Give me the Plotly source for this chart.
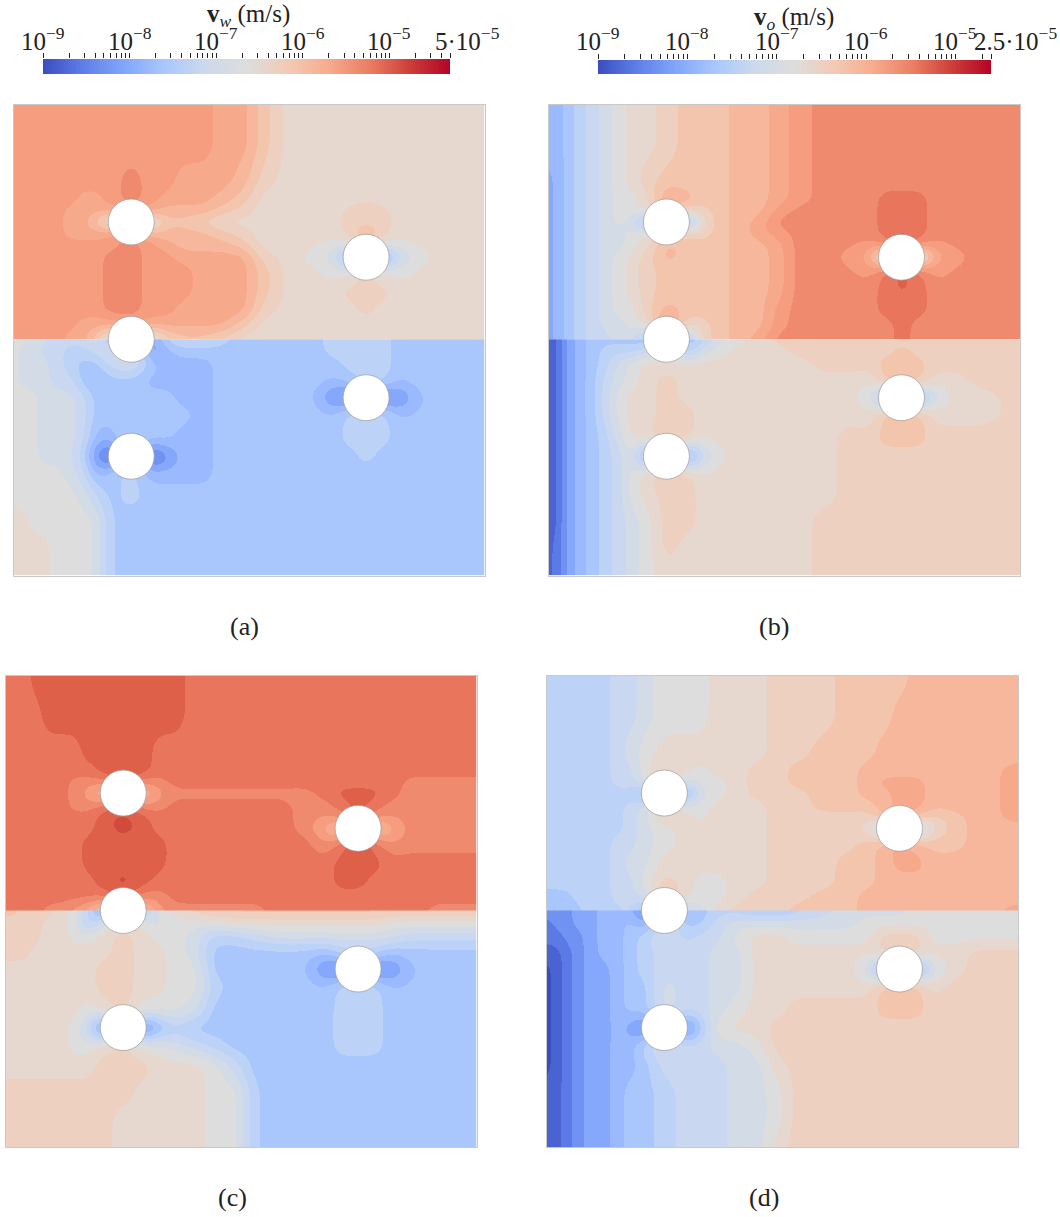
import numpy as np
import plotly.graph_objects as go

# Grid nodes of the reservoir (units: 1416 = panel width)
X_NODES = [0,30,60,90,130,170,210,250,290, 354,420,460,510,570,630,690,750,830, 900,960,1010,1060,1110,1160,1220,1300,1416]
Y_TOP = [0,120,230,285,320,352,390,425,458,500,560,620,660,705]
Y_BOT = [705,740,780,830,881,930,1000,1057,1110,1170,1250,1330,1416]
WELL_X = [354,1060,354,354,1060]
WELL_Y = [352,458,705,1057,881]

# Colour band (level) of the velocity read at every node
A_TOP = [
[16,16,16,16,16,16,16,16,16, 16,16,16,16,16,15,15,13,11, 11,11,11,11,11,11,11,11,11],
[16,16,16,16,16,16,16,16,16, 16,16,16,16,16,15,15,13,11, 11,11,11,11,11,11,11,11,11],
[16,16,16,16,16,16,16,16,16, 17,16,16,15,15,15,14,12,11, 11,11,11,11,11,11,11,11,11],
[16,16,16,16,16,16,15,15,16, 17,16,15,15,15,14,13,11,11, 11,11,11,11.5,11,11,11,11,11],
[16,16,16,16,16,15,15,15,15, 16,15,14,14,14,13,12,11,11, 11,11,12,12,12,11,11,11,11],
[16,16,16,16,16,15,15,13,9, 12,9,13,13,12,11,11,11,11, 11,11,12,12,12,11,11,11,11],
[16,16,16,16,16,15,15,15,16, 17,14,14,14,14,13,12,11,11, 11,11,12,14,12,11,11,11,11],
[16,16,16,16,16,16,16,16,16, 17,16,15,14,14,14,13,11,11, 10.7,10,10,13,10,10,10.7,11,11],
[16,16,16,16,16,16,16,16,17, 17,16,16,15,15,15,15,12,11, 10,9,3,9,3,8,10,11,11],
[16,16,16,16,16,16,16,16,17, 17,16,16,16,15,15,15,13,11, 10.7,10,10,12,10,10,10.7,11,11],
[16,16,16,16,16,16,16,16,17, 17,16,16,16,15,15,15,13,11, 11,11,12,12,12,11,11,11,11],
[16,16,16,16,16,16,16,16,17, 17,16,16,15,15,15,15,12,11, 11,11,11,12,11,11,11,11,11],
[16,16,16,16,16,16,15,15,15, 16,15,15,15,15,15,13,11,11, 11,11,11,11,11,11,11,11,11],
[16,16,16,16,16,15,15,13,9, 12,9,12,13,13,12,11,11,11, 11,11,11,11,11,11,11,11,11],
]
A_BOT = [
[10,10,9,9,8,8,8,10,5, 6,4,7,8,8,7,6,6,6, 6,7,7,7,7,6,6,6,6],
[10,9,9,8,8,7,7,8,9, 10,3,5,6,6,6,6,6,6, 6,7,7,7,7,6,6,6,6],
[10,9,9,9,8,7,6,6,8, 9,6,5,5,5,6,6,6,6, 6,6,7,7,7,6,6,6,6],
[10,9,9,9,8,8,6,5,6, 6,5,5,5,5,6,6,6,6, 6,5.4,6,7,7,5.5,6,6,6],
[10,10,10,9,9,9,8,6,6, 6,6,6,5,5,6,6,6,6, 5.6,3,2,6,2,3,5.4,6,6],
[10,10,10,9,9,9,8,6,6, 6,6,6,6,5,6,6,6,6, 6,5.5,7,7,7,5.4,5.7,6,6],
[10,10,10,9,9,9,8,5,5, 7,6,6,5,5,6,6,6,6, 6,6,7,7,7,6,6,6,6],
[10,10,10,9,9,9,7,3,1, 7,1,3,5,5,6,6,6,6, 6,6,6,7,6,6,6,6,6],
[10,10,10,10,10,9,8,5,6, 7,5,5,5,5,6,6,6,6, 6,6,6,6,6,6,6,6,6],
[10,10,10,10,10,10,9,7.5,6, 7,6,6,6,6,6,6,6,6, 6,6,6,6,6,6,6,6,6],
[11,11,10,10,10,10,10,9.5,6.5, 6,6,6,6,6,6,6,6,6, 6,6,6,6,6,6,6,6,6],
[11,11,11,11,10,10,10,9.5,6.5, 6,6,6,6,6,6,6,6,6, 6,6,6,6,6,6,6,6,6],
[11,11,11,11,10,10,10,9.5,6.5, 6,6,6,6,6,6,6,6,6, 6,6,6,6,6,6,6,6,6],
]
B_TOP = [
[5,5,6,7,8,9,10,11,11, 12,13,13,13,14,14,15,16,17, 17,17,17,17,17,17,17,17,17],
[5,5,6,7,8,9,10,11,11, 12,13,13,13,14,14,15,16,17, 17,17,17,17,17,17,17,17,17],
[4,5,6,7,8,9,10,11,12, 13,13,13,13,14,14,15,16,17, 17,17,17,17,17,17,17,17,17],
[4,5,6,7,8,9,10,10,11, 15,14,13,13,14,14,15,16,17, 17,17,18,18,18,17,17,17,17],
[4,5,6,7,8,9,10,10,11, 13,12,12,13,14,14,16,17,17, 17,17,18,18,18,17,17,17,17],
[4,5,6,7,8,9,10,9,3, 12,3,11,13,14,15,17,17,17, 17,17,18,18,18,17,17,17,17],
[4,5,6,7,8,9,9,10,11, 12,13,12,13,14,15,16,17,17, 17,17,18,19,18,17,17,17,17],
[4,5,6,7,8,9,9,10,11, 14,13,13,13,14,14,15,17,17, 16.7,16,17,19,17,16,16.7,17,17],
[4,5,6,7,8,9,10,11,12, 14,13,13,13,14,14,15,17,17, 16,15,7,19,7,15,16,17,17],
[4,5,6,7,8,9,10,11,12, 13,13,13,13,14,14,15,17,17, 16.7,16,18,19,18,16,16.7,17,17],
[4,5,6,7,8,9,10,11,12, 13,13,13,13,14,14,15,17,17, 17,17,18,18.7,18,17,17,17,17],
[4,5,6,7,8,9,10,10,12, 14,13,13,13,14,14,16,17,17, 17,17,18,18,18,17,17,17,17],
[4,5,6,7,8,9,9,10,11, 16,12,12,13,14,14,16,17,17, 17,17,17,18,17,17,17,17,17],
[4,5,6,7,8,8,9,9,5, 12,5,12,13,14,15,17,17,17, 17,17,17,18,17,17,17,17,17],
]
B_BOT = [
[0,2,4,5,6,6,6,6,5, 12,5,7,9,10,11,12,12,12, 12,12,12,12,12,12,12,12,12],
[0,2,4,5,6,7,7,7,8, 10,6,9,10,11,11,11,12,12, 12,12,12,13,12,12,12,12,12],
[0,2,4,5,6,7,9,10,11, 11,11,11,11,11,11,11,11,12, 12,12,13,13,13,12,12,12,12],
[0,2,4,5,6,8,9,10,11, 12,11,11,11,11,11,11,11,11, 11,10.6,13,14,13,11,11,12,12],
[0,2,4,5,6,8,10,11,11, 12,11,11,11,11,11,11,11,11, 10.6,10,4,12,4,9,11,11,12],
[0,2,4,5,6,8,10,11,11, 12,12,11,11,11,11,11,11,11, 11,10.6,13,14,13,11,11,11,12],
[0,2,4,5,6,7,9,11,11, 13,12,10.5,11,11,11,11,11,11, 12,12,13,13,13,12,12,12,12],
[0,2,4,5,6,7,8,10,3, 12,3,8,10,11,11,11,11,11, 12,12,12,12,12,12,12,12,12],
[0,2,4,5,6,7,8,10,11, 13,12,10.5,11,11,11,11,11,11, 12,12,12,12,12,12,12,12,12],
[0,2,4,5,6,7,8,10,11, 12,12,11,11,11,11,11,11,11, 12,12,12,12,12,12,12,12,12],
[0,2,4,5,6,7,8,9,10, 12,12,11,11,11,11,11,11,12, 12,12,12,12,12,12,12,12,12],
[1,2,4,5,6,7,8,9,10, 12,11,11,11,11,11,11,11,12, 12,12,12,12,12,12,12,12,12],
[1,2,4,5,6,7,8,9,10, 11,11,11,11,11,11,11,11,12, 12,12,12,12,12,12,12,12,12],
]
C_TOP = [
[18,18,18,19,19,19,19,19,19, 19,19,19,19,18,18,18,18,18, 18,18,18,18,18,18,18,18,18],
[18,18,18,18,19,19,19,19,19, 19,19,19,19,18,18,18,18,18, 18,18,18,18,18,18,18,18,18],
[18,18,18,18,18,18,18,19,19, 19,19,18,18,18,18,18,18,18, 18,18,18,18,18,18,18,18,18],
[18,18,18,18,18,18,18,18,19, 20,19,18,18,18,18,18,18,18, 18,18,18,18,18,18,18,18,18],
[18,18,18,18,18,18,17,17,17, 18,17,17,18,18,18,18,18,18, 18,18,18,18,18,18,17,17,17],
[18,18,18,18,18,18,17,16,13, 18,13,16,17,17,17,17,17,17, 17,18,19,19,19,18,17,17,17],
[18,18,18,18,18,18,17,17,18, 19,17,17,18,18,18,18,18,18, 17,17,18,19,18,17,17,17,17],
[18,18,18,18,18,18,18,18,19, 20,19,18,18,18,18,18,18,18, 17,16.5,17,19,17,16.5,17,17,17],
[18,18,18,18,18,18,18,18,19, 20,19,18,18,18,18,18,18,18, 17,15,12,19,12,15,17,17,17],
[18,18,18,18,18,18,18,19,19, 19,19,19,18,18,18,18,18,18, 18,16.5,18,20,18,16.5,17,17,17],
[18,18,18,18,18,18,18,19,19, 19,19,19,18,18,18,18,18,18, 18,18,19,19,19,18,18,18,18],
[18,18,18,18,18,18,18,18,19, 20,19,18,18,18,18,18,18,18, 18,18,19,19,18,18,18,18,18],
[18,18,18,18,18,18,18,18,18, 19,17,17,18,18,18,18,18,18, 18,18,18,18,18,18,18,18,18],
[18,18,18,18,17,17,16,15,12, 16,13,16,17,17,17,17,17,18, 18,18,18,18,18,18,18,17,17],
]
C_BOT = [
[13,13,12,12,12,11,10,8,3, 12,6,10,11,12,13,13,13,13, 13,13,13,13,13,13,13,13,13],
[12,12,12,12,11,11,10,6,9, 11,10,9,10,10,10,11,11,11, 11,11,11,11,11,10,10,10,10],
[12,12,12,12,11,11,10,10,11, 12,11,10,10,9,7,7,8,9, 9,9,9,9,9,9,8,8,8],
[12,12,12,11,11,11,11,11,11, 12,11,11,10,9,6,6,6,6, 6,5.5,7,7,7,5.5,6,6,6],
[11,11,11,11,11,11,11,11,12, 12,11,11,10,10,6,6,6,6, 5.6,3,2,7,2,3,5.4,6,6],
[11,11,11,11,11,11,11,11,12, 12,11,11,10,10,7,6,6,6, 6,5.5,7,7,7,5.5,5.7,6,6],
[11,11,11,11,11,11,11,10,11, 12,10,10,10,9,6,6,6,6, 6,6,7,7,7,6,6,6,6],
[11,11,11,11,11,11,10,8,2, 12,2,5,7,6,6,6,6,6, 6,6,7,7,7,6,6,6,6],
[11,11,11,11,11,11,10,10,11, 12,10,10,9,8,7,6,6,6, 6,6,7,7,7,6,6,6,6],
[11,11,11,11,11,11,11,11,12, 12,12,11,11,11,10,8,6,6, 6,6,6,6,6,6,6,6,6],
[12,12,12,12,12,12,12,12,12, 12,11,11,11,11,10,10,6.5,6, 6,6,6,6,6,6,6,6,6],
[12,12,12,12,12,12,12,12,12, 11,11,11,11,11,10,10,6.5,6, 6,6,6,6,6,6,6,6,6],
[12,12,12,12,12,12,12,12,12, 11,11,11,11,11,10,10,6.5,6, 6,6,6,6,6,6,6,6,6],
]
D_TOP = [
[7,7,7,7,7,7,8,8,9, 10,10,10,11,11,11,12,12,12, 13,13,13,13,14,14,14,14,14],
[7,7,7,7,7,7,8,8,9, 10,10,10,11,11,11,12,12,12, 13,13,13,14,14,14,14,14,14],
[7,7,7,7,7,7,8,9,10, 11,11,11,11,11,11,12,12,13, 13,13,14,14,14,14,14,14,14],
[7,7,7,7,7,7,8,8,10, 12,11,10,11,11,12,12,13,13, 13,14,14,14,14,14,14,14,15],
[7,7,7,7,7,7,8,8,10, 12,9,10,10,11,12,12,13,13, 13,14,15,15,15,14,14,14,15],
[7,7,7,7,7,7,7,7,3, 12,3,9,10,11,12,12,12,13, 13,14,14,15,15,14,14,14,15],
[7,7,7,7,7,7,7,8,9, 12,10,10,11,11,11,12,12,13, 13,13,14,15,15,14,14,14,15],
[7,7,7,7,7,7,7,8,9, 12,11,10,11,11,11,12,12,12, 12,12,14,15,14,12,13,14,15],
[7,7,7,7,7,7,7,8,9, 10,11,11,11,11,11,12,12,12, 12,11,5,14,5,11,13,14,14],
[7,7,7,7,7,7,8,8,9, 10,11,11,11,11,11,12,12,12, 12,13,14,15,14,13,13,14,14],
[7,7,7,7,7,7,8,9,9, 11,11,11,11,11,11,12,12,12, 13,13,14,15,15,14,14,14,14],
[7,7,7,7,7,7,8,8,10, 12,11,10,10,11,11,12,12,12, 13,13,14,14,14,14,14,14,14],
[6,6,6,7,7,7,8,8,9, 13,11,10,10,11,12,12,12,13, 13,14,14,14,14,14,14,14,14],
[6,6,6,6,7,7,7,8,4, 13,7,9,11,12,12,12,13,13, 13,14,14,14,14,14,14,14,15],
]
D_BOT = [
[3,3,3,4,4,5,5,5,2, 9,5,6,7,7,6,6,7,8, 9,9,9,9,10,10,10,10,10],
[2,3,3,4,4,5,5,6,4, 9,6,6,8,9,9,9,9,9, 9,10,10,10,10,10,10,10,10],
[2,2,3,3,4,5,5,6,7, 9,7,8,8,10,11,11,10,10, 10,10,12,12,12,10,10,10,10],
[1,1,2,3,4,5,5,6,7, 8,8,8,9,9,11,11,11,11, 11,11,12,13,12,11,11,12,12],
[0,1,2,3,4,4,5,6,7, 8,8,8,9,9,11,11,11,11, 11,9,3,12,3,9,11,12,12],
[0,1,2,3,4,4,5,6,6, 9,8,8,9,9,11,11,11,11, 11,11,13,14,13,11,12,12,12],
[0,1,2,3,4,4,5,6,6, 9,8,8,9,10,11,11,12,12, 12,12,13,13,13,12,12,12,12],
[0,1,2,3,4,4,5,4,2, 9,2,6,10,11,11,12,12,12, 12,12,12,12,12,12,12,12,12],
[0,1,2,3,4,4,5,5,7, 9,8,8,9,9,10,12,12,12, 12,12,12,12,12,12,12,12,12],
[0,1,2,3,4,4,5,5,6, 8,8,8,8,9,9,11,12,12, 12,12,12,12,12,12,12,12,12],
[1,1,2,3,4,4,5,6,6, 7,8,8,8,9,9,10,12,12, 12,12,12,12,12,12,12,12,12],
[1,1,2,3,4,4,5,6,6, 7,8,8,8,9,9,10,12,12, 12,12,12,12,12,12,12,12,12],
[1,1,2,3,4,4,5,6,6, 7,8,8,8,9,9,11,12,12, 12,12,12,12,12,12,12,12,12],
]

# Colour of each level
LEVEL_COLORS = ["#3b4cc0","#4a63d3","#5b7ae5","#6f92f3","#85a8fc","#9bb9ff","#aac7fd","#bcd2f7",
                "#c9d7f0","#d3dbe7","#dddddd","#e6d8cf","#eed0c0","#f4c5ad","#f6b79c","#f7a98b",
                "#f59d7e","#ef8a6e","#e8755c","#de6049","#d14a3d","#c0282f","#b40426"]
COOLWARM = [[0,"#3b4cc0"],[0.1,"#5f7fe8"],[0.2,"#82a6fb"],[0.3,"#aac7fd"],[0.4,"#cdd9ec"],[0.5,"#dddddd"],
            [0.6,"#f2cbb7"],[0.7,"#f7ac8e"],[0.8,"#ec7f63"],[0.9,"#cc403a"],[1,"#b40426"]]

CB_LEFT_MIN, CB_LEFT_MAX = -9, np.log10(5e-5)
CB_RIGHT_MIN, CB_RIGHT_MAX = -9, np.log10(2.5e-5)
DECADES = [-9,-8,-7,-6,-5]
DECADE_LABELS = ["10<sup>−9</sup>","10<sup>−8</sup>","10<sup>−7</sup>","10<sup>−6</sup>","10<sup>−5</sup>"]

W, H = 1060, 1217
FONT = "Liberation Serif"
SMOOTH_SIGMA = 18.0
STEP = 3.0
def dx(a, b): return [a/W, b/W]
def dy(top, bot): return [1-bot/H, 1-top/H]

def smooth_field(xs, ys, rows):
    """Resample the node values on a pixel grid, round off grid corners, snap to bands."""
    xf = np.arange(xs[0]+STEP/2, xs[-1], STEP)
    yf = np.arange(ys[0]+STEP/2, ys[-1], STEP)
    a = np.asarray(rows, float)
    a = np.array([np.interp(xf, xs, r) for r in a])
    a = np.array([np.interp(yf, ys, c) for c in a.T]).T
    rad = int(3*SMOOTH_SIGMA/STEP)
    k = np.exp(-0.5*(np.arange(-rad, rad+1)*STEP/SMOOTH_SIGMA)**2); k /= k.sum()
    for axis in (0, 1):
        pad = [(0,0),(0,0)]; pad[axis] = (rad, rad)
        p = np.pad(a, pad, mode="edge")
        a = np.apply_along_axis(lambda v: np.convolve(v, k, mode="valid"), axis, p)
    return xf, yf, np.round(a).astype(int)

n = len(LEVEL_COLORS)
steps = []
for k, c in enumerate(LEVEL_COLORS):
    steps += [[k/n, c], [(k+1)/n, c]]

fig = go.Figure()
panels = [("x","y",A_TOP,A_BOT,(13.5,484.5,105,575.5)),
          ("x2","y2",B_TOP,B_BOT,(548.5,1020,105,575.5)),
          ("x3","y3",C_TOP,C_BOT,(5.5,476.5,676,1147)),
          ("x4","y4",D_TOP,D_BOT,(546.5,1018,676,1147))]
axis_style = dict(showgrid=False, zeroline=False, showticklabels=False, ticks="", automargin=False,
                  showline=True, linecolor="#c9c9c9", linewidth=1, mirror=True)
for i,(xa,ya,top,bot,(x0,x1,y0,y1)) in enumerate(panels):
    for ys, zz in ((Y_TOP, top), (Y_BOT, bot)):
        xf, yf, zf = smooth_field(X_NODES, ys, zz)
        fig.add_trace(go.Heatmap(x=xf, y=yf, z=zf, xaxis=xa, yaxis=ya, showscale=False,
                                 zmin=-0.5, zmax=n-0.5, colorscale=steps, hoverinfo="skip"))
    fig.add_trace(go.Scatter(x=WELL_X, y=WELL_Y, xaxis=xa, yaxis=ya, mode="markers", hoverinfo="skip", showlegend=False,
                             marker=dict(size=46, color="white", line=dict(color="#999999", width=0.7))))
    suffix = "" if i == 0 else str(i+1)
    fig.layout["xaxis"+suffix] = dict(domain=dx(x0,x1), range=[0,1416], anchor=ya, **axis_style)
    fig.layout["yaxis"+suffix] = dict(domain=dy(y0,y1), range=[1416,0], anchor=xa, **axis_style)

def minor_ticks(vmax):
    out = []
    for d in DECADES:
        for m in range(1,10):
            v = d + np.log10(m)
            if v <= vmax + 1e-9:
                out.append(v)
    out.append(vmax)
    return out

def label(x, y, text, size=26, xref="paper"):
    fig.add_annotation(x=x/W if xref == "paper" else x, y=1-y/H, xref=xref, yref="paper", text=text, showarrow=False,
                       xanchor="center", yanchor="middle", font=dict(family=FONT, size=size, color="#222"))

for idx,(lo,hi,(x0,x1,y0,y1)) in enumerate([(CB_LEFT_MIN,CB_LEFT_MAX,(43,450,59,74)),
                                             (CB_RIGHT_MIN,CB_RIGHT_MAX,(598,991,60,74))]):
    s = str(5+idx)
    ramp = np.linspace(lo,hi,300)
    fig.add_trace(go.Heatmap(x=ramp, y=[0,1], z=[ramp,ramp], xaxis="x"+s, yaxis="y"+s, showscale=False,
                             colorscale=COOLWARM, zmin=lo, zmax=hi, hoverinfo="skip"))
    fig.layout["xaxis"+s] = dict(domain=dx(x0,x1), range=[lo,hi], anchor="y"+s, side="top", showgrid=False, zeroline=False,
                                 automargin=False, tickmode="array", tickvals=minor_ticks(hi), showticklabels=False,
                                 ticks="outside", ticklen=5, tickwidth=1, tickcolor="#222", showline=False)
    fig.layout["yaxis"+s] = dict(domain=dy(y0,y1), range=[0,1], anchor="x"+s, visible=False)
    for d, t in zip(DECADES, DECADE_LABELS):
        label(d, 39, t, 25, xref="x"+s)

label(467, 39, "5·10<sup>−5</sup>", 25)
label(1015, 39, "2.5·10<sup>−5</sup>", 25)
label(248, 16, "<b>v</b><sub><i>w</i></sub> (m/s)", 25)
label(794, 18, "<b>v</b><sub><i>o</i></sub> (m/s)", 25)
label(244, 626, "(a)")
label(774, 626, "(b)")
label(232, 1197, "(c)")
label(764, 1197, "(d)")

fig.update_layout(width=W, height=H, margin=dict(l=0,r=0,t=0,b=0), paper_bgcolor="white", plot_bgcolor="white", showlegend=False)
fig.write_html("out.html", config=dict(displayModeBar=False),
               post_script="document.body.style.margin='0';document.documentElement.style.overflow='hidden';")
